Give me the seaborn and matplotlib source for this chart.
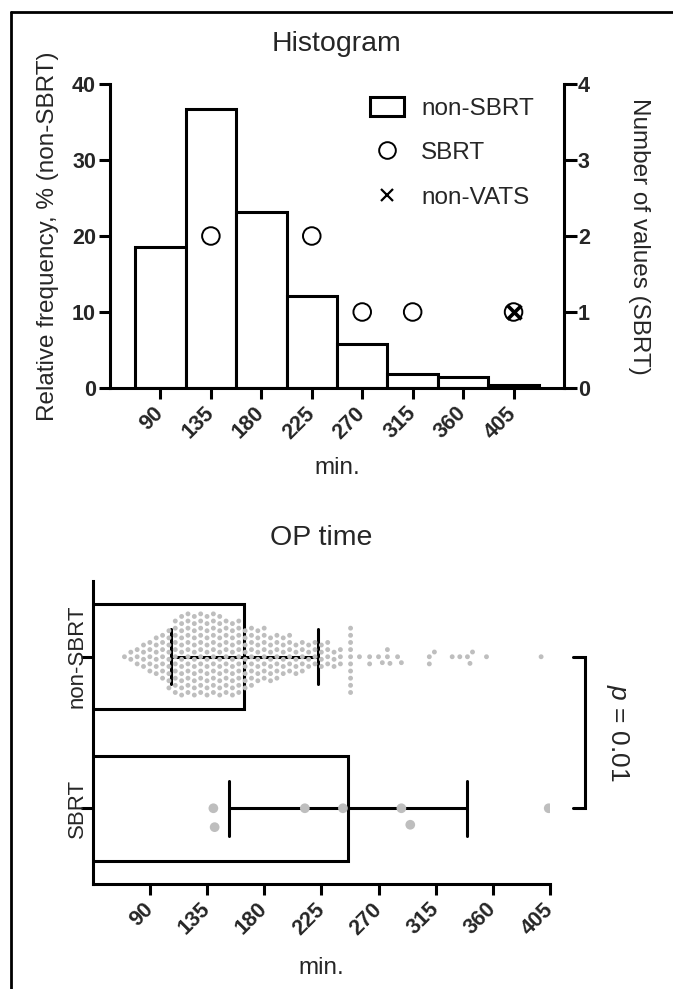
import matplotlib
matplotlib.use("Agg")
import matplotlib.pyplot as plt
from matplotlib.lines import Line2D
from matplotlib.patches import Patch

import numpy as np
import pandas as pd
import seaborn as sns

sns.set_style("ticks")
plt.rcParams["font.family"] = ["Liberation Sans", "DejaVu Sans"]
plt.rcParams["mathtext.fontset"] = "custom"
plt.rcParams["mathtext.rm"] = "Liberation Sans"
plt.rcParams["mathtext.it"] = "Liberation Sans:italic"

# --- histogram data (top panel) ---
bin_centers = [90, 135, 180, 225, 270, 315, 360, 405]
rel_freq = [18.5, 36.7, 23.2, 12.1, 5.8, 1.9, 1.5, 0.4]   # % non-SBRT
sbrt_bins = [135, 225, 270, 315, 405]
sbrt_counts = [2, 2, 1, 1, 1]
nonvats_bins = [405]
nonvats_counts = [1]

# --- OP time data (bottom panel), minutes ---
nonsbrt_minutes = [70, 75, 80, 85, 90, 95, 100, 105, 110,
                   115, 120, 125, 130, 135, 140, 145, 150, 155, 160,
                   165, 170, 175, 180, 185, 190, 195, 200,
                   205, 210, 215, 220, 225, 230, 235, 240, 248,
                   255, 263, 270, 273, 277, 279, 285, 288,
                   310, 314, 328, 334, 340, 342, 344, 355, 398]
nonsbrt_n = [1, 2, 3, 4, 5, 6, 7, 9, 11,
             12, 12, 12, 12, 12, 12, 12, 11, 11, 11,
             9, 9, 8, 8, 7, 7, 6, 6,
             5, 5, 4, 4, 4, 4, 3, 3, 10,
             1, 2, 1, 1, 2, 1, 1, 1,
             2, 1, 1, 1, 1, 1, 1, 1, 1]
sbrt_minutes = [140, 141, 212, 242, 288, 295, 404]

groups = ["non-SBRT", "SBRT"]
x_ticks = [90, 135, 180, 225, 270, 315, 360, 405]

hist_df = pd.DataFrame({"minutes": bin_centers, "pct": rel_freq})
df_non = pd.DataFrame({"group": "non-SBRT",
                       "minutes": np.repeat(nonsbrt_minutes, nonsbrt_n)})
df_sbrt = pd.DataFrame({"group": "SBRT", "minutes": sbrt_minutes})
df = pd.concat([df_non, df_sbrt], ignore_index=True)

LW = 2.2
TICK_FS = 15.5
LAB_FS = 17.5
TITLE_FS = 20.5
DOT = "#bebebe"

W, H = 673, 989
fig = plt.figure(figsize=(W / 100, H / 100), dpi=100)

# outer frame (left + top only)
fig.add_artist(Line2D([11 / W, 11 / W], [0, 1 - 12 / H], color="black", lw=2, transform=fig.transFigure))
fig.add_artist(Line2D([11 / W, 1], [1 - 12 / H, 1 - 12 / H], color="black", lw=2, transform=fig.transFigure))

# ================= Histogram =================
ax1 = fig.add_axes([110 / W, 1 - 388 / H, 454 / W, 304 / H])
edges = [67.5 + 45 * i for i in range(9)]
sns.histplot(data=hist_df, x="minutes", weights="pct", bins=edges, ax=ax1,
             color="white", edgecolor="black", linewidth=LW, alpha=1)
ax1.set_xlim(45, 450)
ax1.set_ylim(0, 40)
ax1.set_yticks([0, 10, 20, 30, 40])
ax1.set_xticks(x_ticks)
ax1.set_xticklabels([str(t) for t in x_ticks], rotation=45, ha="right",
                    va="center", rotation_mode="anchor", fontweight="bold")
ax1.set_yticklabels(["0", "10", "20", "30", "40"], fontweight="bold")
ax1.tick_params(axis="both", direction="out", length=8, width=LW, labelsize=TICK_FS, color="black")
ax1.tick_params(axis="x", pad=8)
ax1.tick_params(axis="y", pad=2)
for s in ["top", "right"]:
    ax1.spines[s].set_visible(False)
for s in ["left", "bottom"]:
    ax1.spines[s].set_linewidth(LW)
    ax1.spines[s].set_color("black")
ax1.set_title("Histogram", fontsize=TITLE_FS, pad=24)
ax1.set_xlabel("min.", fontsize=LAB_FS, va="center")
ax1.xaxis.set_label_coords(0.5, -0.263)
ax1.set_ylabel("Relative frequency, % (non-SBRT)", fontsize=LAB_FS, va="center")
ax1.yaxis.set_label_coords(-0.136, 0.5)

ax2 = ax1.twinx()
sns.scatterplot(x=sbrt_bins, y=sbrt_counts, ax=ax2, marker="o", s=160,
                facecolor="none", edgecolor="black", linewidth=1.4, zorder=4)
sns.scatterplot(x=nonvats_bins, y=nonvats_counts, ax=ax2, marker="x", s=100,
                color="black", edgecolor="black", linewidth=2.6, zorder=4)
ax2.set_ylim(0, 4)
ax2.set_xlim(45, 450)
ax2.set_yticks([0, 1, 2, 3, 4])
ax2.set_yticklabels(["0", "1", "2", "3", "4"], fontweight="bold")
ax2.tick_params(axis="y", direction="out", length=9, width=LW, labelsize=TICK_FS, pad=1, color="black")
for s in ["top", "left", "bottom"]:
    ax2.spines[s].set_visible(False)
ax2.spines["right"].set_linewidth(LW)
ax2.spines["right"].set_color("black")
ax2.set_ylabel("Number of values (SBRT)", fontsize=LAB_FS, rotation=270, va="center")
ax2.yaxis.set_label_coords(1.166, 0.5)

handles = [Patch(facecolor="white", edgecolor="black", linewidth=LW),
           Line2D([], [], marker="o", ls="none", mfc="none", mec="black", ms=12, mew=1.4),
           Line2D([], [], marker="x", ls="none", color="black", ms=9, mew=1.6)]
ax2.legend(handles, ["non-SBRT", "SBRT", "non-VATS"], loc="upper left",
           bbox_to_anchor=(370 / W, 1 - 97 / H), bbox_transform=fig.transFigure,
           frameon=False, fontsize=LAB_FS, handlelength=1.4, handleheight=0.8,
           handletextpad=0.7, labelspacing=0.9, borderpad=0, borderaxespad=0)

# ================= OP time =================
ax3 = fig.add_axes([92.7 / W, 1 - 884 / H, 457.3 / W, 303 / H])
sns.barplot(data=df, x="minutes", y="group", order=groups, ax=ax3,
            errorbar="sd", capsize=0.36, width=0.69, color="white",
            saturation=1, edgecolor="black", linewidth=LW,
            err_kws={"color": "black", "linewidth": LW})
sns.swarmplot(data=df_non, x="minutes", y="group", order=groups, ax=ax3,
              color=DOT, size=3.5, linewidth=1.4, edgecolor="none")
sns.swarmplot(data=df_sbrt, x="minutes", y="group", order=groups, ax=ax3,
              color=DOT, size=7, linewidth=6, edgecolor="none")
for c in ax3.collections:
    c.set_zorder(5)

ax3.set_xlim(45, 405)
ax3.set_ylim(1.5, -0.5)
ax3.set_xticks(x_ticks)
ax3.set_xticklabels([str(t) for t in x_ticks], rotation=45, ha="right",
                    va="center", rotation_mode="anchor", fontweight="bold")
ax3.set_yticks([0, 1])
ax3.set_yticklabels(groups, rotation=90, va="center", ha="right")
ax3.tick_params(axis="x", direction="out", length=8, width=LW, labelsize=TICK_FS, pad=8, color="black")
ax3.tick_params(axis="y", direction="out", length=8.6, width=LW, labelsize=16, pad=-5, color="black")
for s in ["top", "right"]:
    ax3.spines[s].set_visible(False)
for s in ["left", "bottom"]:
    ax3.spines[s].set_linewidth(LW)
    ax3.spines[s].set_color("black")
ax3.set_title("OP time", fontsize=TITLE_FS, pad=26)
ax3.set_xlabel("min.", fontsize=LAB_FS, va="center")
ax3.xaxis.set_label_coords(0.5, -0.278)
ax3.set_ylabel("")

# significance bracket
ax3.plot([423, 432.5, 432.5, 423], [0, 0, 1, 1], color="black", lw=LW, clip_on=False,
         solid_joinstyle="miter")
ax3.text(458.5, 0.5, r"$p$ = 0.01", rotation=270, ha="center", va="center",
         fontsize=19, clip_on=False)

fig.savefig("out.png", dpi=100)
